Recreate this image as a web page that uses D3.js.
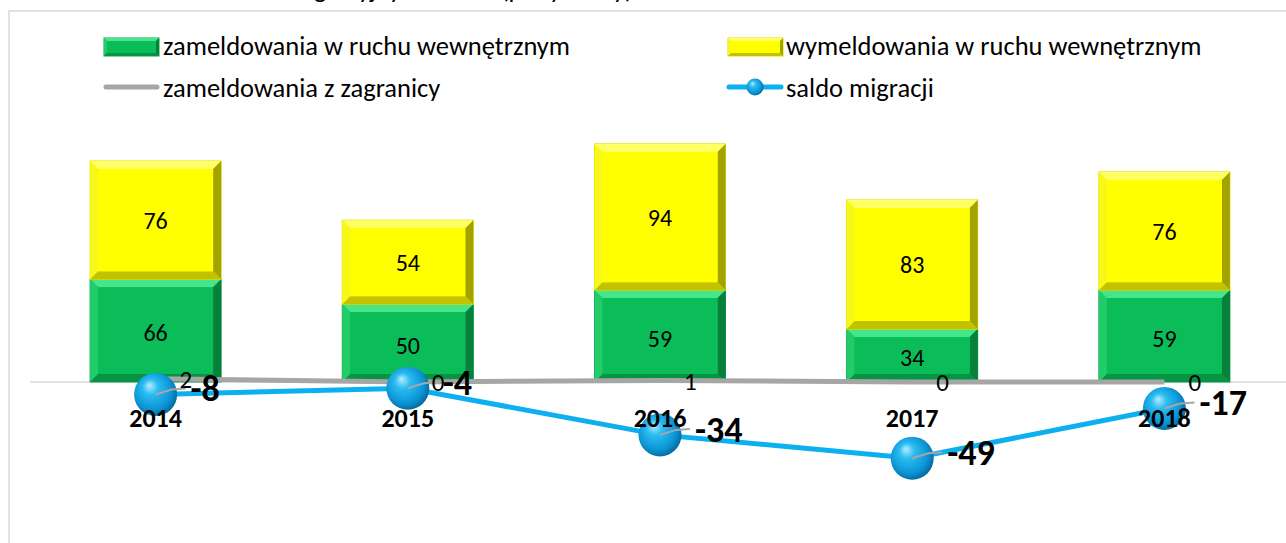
<!DOCTYPE html>
<html>
<head>
<meta charset="utf-8">
<script src="https://cdn.jsdelivr.net/npm/d3@7"></script>
<style>
  body { margin: 0; background: #fff; }
  svg { display: block; font-family: Calibri, Carlito, Lato, sans-serif; }
</style>
</head>
<body>
<div id="chart"></div>
<script>
// ========== data ==========
const years = ["2014", "2015", "2016", "2017", "2018"];
const zamWewn = [66, 50, 59, 34, 59];   // zameldowania w ruchu wewnętrznym
const wymWewn = [76, 54, 94, 83, 76];   // wymeldowania w ruchu wewnętrznym
const zamZagr = [2, 0, 1, 0, 0];        // zameldowania z zagranicy
const saldo = [-8, -4, -34, -49, -17];  // saldo migracji

const seriesNames = ["zameldowania w ruchu wewnętrznym", "wymeldowania w ruchu wewnętrznym",
                     "zameldowania z zagranicy", "saldo migracji"];
const title = "Ruch migracyjny ludności (pobyt stały) w latach 2014–2018";

// ========== setup ==========
const svgWidth = 1286, svgHeight = 543;
const svg = d3.select("#chart").append("svg").attr("width", svgWidth).attr("height", svgHeight);

const defs = svg.append("defs");
const sphere = defs.append("radialGradient").attr("id", "sphere")
  .attr("cx", "45%").attr("cy", "45%").attr("r", "60%").attr("fx", "35%").attr("fy", "28%");
sphere.append("stop").attr("offset", "0%").attr("stop-color", "#b8ecff");
sphere.append("stop").attr("offset", "30%").attr("stop-color", "#2bbcf2");
sphere.append("stop").attr("offset", "75%").attr("stop-color", "#0a93d4");
sphere.append("stop").attr("offset", "100%").attr("stop-color", "#065f8e");

// chart frame + title (cut off at the top like in the source)
svg.append("rect").attr("x", 9).attr("y", 11).attr("width", 1300).attr("height", 560)
  .attr("fill", "none").attr("stroke", "#d9d9d9").attr("stroke-width", 1.5);
svg.append("text").attr("x", 540).attr("y", -2).attr("text-anchor", "middle")
  .attr("font-size", "26px").attr("fill", "#000").text(title);

// ========== scales ==========
const x = d3.scalePoint().domain(years).range([29.5, 1290.5]).padding(0.5);
const y = d3.scaleLinear().domain([-100, 160]).range([537.6, 133]);
const barW = 131;

// axis line
svg.append("line").attr("x1", 30).attr("x2", svgWidth).attr("y1", y(0)).attr("y2", y(0))
  .attr("stroke", "#d9d9d9").attr("stroke-width", 1.5);

// ========== bevelled bars ==========
const green = {base: "#0bbd58", top: "#45e68b", left: "#22cc69", right: "#06803a", bottom: "#079344", edge: "#08a24a"};
const yellow = {base: "#ffff00", top: "#ffff66", left: "#f7f71a", right: "#a3a300", bottom: "#c2c200", edge: "#e0e000"};

function bevel(g, bx, by, w, h, c, b) {
  g.append("rect").attr("x", bx).attr("y", by).attr("width", w).attr("height", h)
    .attr("fill", c.base).attr("stroke", c.edge).attr("stroke-width", 1);
  const pts = [
    [[bx, by], [bx + w, by], [bx + w - b, by + b], [bx + b, by + b], c.top],
    [[bx, by], [bx + b, by + b], [bx + b, by + h - b], [bx, by + h], c.left],
    [[bx + w, by], [bx + w, by + h], [bx + w - b, by + h - b], [bx + w - b, by + b], c.right],
    [[bx, by + h], [bx + w, by + h], [bx + w - b, by + h - b], [bx + b, by + h - b], c.bottom]
  ];
  pts.forEach(p => g.append("polygon").attr("points", p.slice(0, 4).map(q => q.join(",")).join(" ")).attr("fill", p[4]));
  g.append("rect").attr("x", bx + b).attr("y", by + b).attr("width", w - 2 * b).attr("height", h - 2 * b).attr("fill", c.base);
}

const bars = svg.append("g");
years.forEach((yr, i) => {
  const x0 = x(yr) - barW / 2;
  bevel(bars, x0, y(zamWewn[i]), barW, y(0) - y(zamWewn[i]), green, 8);
  bevel(bars, x0, y(zamWewn[i] + wymWewn[i]), barW, y(zamWewn[i]) - y(zamWewn[i] + wymWewn[i]), yellow, 8);
});

// bar labels
svg.append("g").selectAll("text").data(years).enter().append("text")
  .attr("x", d => x(d)).attr("y", (d, i) => y(zamWewn[i] / 2) + 2)
  .attr("text-anchor", "middle").attr("dominant-baseline", "central")
  .attr("font-size", "24px").text((d, i) => zamWewn[i]);
svg.append("g").selectAll("text").data(years).enter().append("text")
  .attr("x", d => x(d)).attr("y", (d, i) => y(zamWewn[i] + wymWewn[i] / 2))
  .attr("text-anchor", "middle").attr("dominant-baseline", "central")
  .attr("font-size", "24px").text((d, i) => wymWewn[i]);

// ========== lines ==========
const line = d3.line().x(d => x(d[0])).y(d => y(d[1]));
svg.append("path").datum(years.map((d, i) => [d, zamZagr[i]])).attr("d", line)
  .attr("fill", "none").attr("stroke", "#a6a6a6").attr("stroke-width", 5);
svg.append("path").datum(years.map((d, i) => [d, saldo[i]])).attr("d", line)
  .attr("fill", "none").attr("stroke", "#0db0ee").attr("stroke-width", 5);

svg.append("g").selectAll("circle").data(years).enter().append("circle")
  .attr("cx", d => x(d)).attr("cy", (d, i) => y(saldo[i])).attr("r", 21.5)
  .attr("fill", "url(#sphere)");

// leader lines
svg.append("g").selectAll("polyline").data(years).enter().append("polyline")
  .attr("points", (d, i) => {
    const cx = x(d), cy = y(saldo[i]);
    return [[cx, cy], [cx + 16, cy - 5], [cx + 30, cy - 6]].map(q => q.join(",")).join(" ");
  })
  .attr("fill", "none").attr("stroke", "#a6a6a6").attr("stroke-width", 2);

// value labels for lines
svg.append("g").selectAll("text").data(years).enter().append("text")
  .attr("x", d => x(d) + 24).attr("y", (d, i) => y(zamZagr[i]) + 1)
  .attr("dominant-baseline", "central").attr("font-size", "25px")
  .text((d, i) => zamZagr[i]);
svg.append("g").selectAll("text").data(years).enter().append("text")
  .attr("x", d => x(d) + 35).attr("y", (d, i) => y(saldo[i]) - 5)
  .attr("dominant-baseline", "central").attr("font-size", "36px").style("font-weight", "bold")
  .text((d, i) => saldo[i]);

// category labels
svg.append("g").selectAll("text").data(years).enter().append("text")
  .attr("x", d => x(d)).attr("y", 427).attr("text-anchor", "middle")
  .attr("font-size", "26px").style("font-weight", "bold").text(d => d);

// ========== legend ==========
const legend = svg.append("g");
bevel(legend, 104, 38, 55, 18, green, 3);
bevel(legend, 728, 38, 55, 18, yellow, 3);
legend.append("line").attr("x1", 106).attr("x2", 157).attr("y1", 87).attr("y2", 87)
  .attr("stroke", "#a6a6a6").attr("stroke-width", 5).attr("stroke-linecap", "round");
legend.append("line").attr("x1", 729).attr("x2", 781).attr("y1", 87).attr("y2", 87)
  .attr("stroke", "#0db0ee").attr("stroke-width", 5).attr("stroke-linecap", "round");
legend.append("circle").attr("cx", 755).attr("cy", 87).attr("r", 8.5).attr("fill", "url(#sphere)");

const legendPos = [[163, 55], [786, 55], [163, 97], [786, 97]];
legend.selectAll("text").data(seriesNames).enter().append("text")
  .attr("x", (d, i) => legendPos[i][0]).attr("y", (d, i) => legendPos[i][1])
  .attr("font-size", "26.5px").text(d => d);
</script>
</body>
</html>
